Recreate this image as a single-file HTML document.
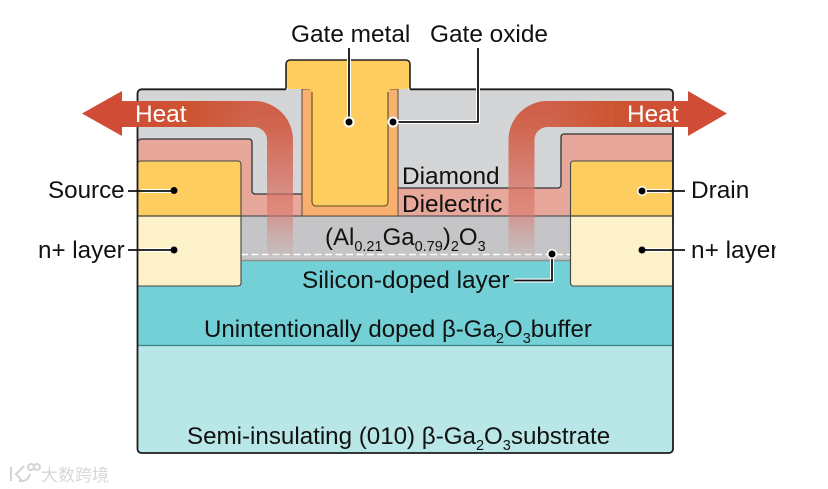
<!DOCTYPE html>
<html><head><meta charset="utf-8"><style>
html,body{margin:0;padding:0;background:#fff;width:828px;height:489px;overflow:hidden}
svg{display:block}
text{font-family:"Liberation Sans","Noto Sans CJK SC",sans-serif;font-size:24.400px;fill:#111}
.s{font-size:14.500px}
.h{fill:#fff}
</style></head><body>
<svg width="828" height="489" viewBox="0 0 828 489" xmlns="http://www.w3.org/2000/svg">
<defs>
<linearGradient id="fade" gradientUnits="userSpaceOnUse" x1="0" y1="101" x2="0" y2="256">
<stop offset="0" stop-color="#cf5f48"/>
<stop offset=".16" stop-color="#d0654f"/>
<stop offset=".5" stop-color="#d86f60" stop-opacity=".8"/>
<stop offset=".75" stop-color="#d8766a" stop-opacity=".55"/>
<stop offset="1" stop-color="#d08078" stop-opacity=".08"/>
</linearGradient>
<linearGradient id="hl" gradientUnits="userSpaceOnUse" x1="121" y1="0" x2="250" y2="0">
<stop offset="0" stop-color="#d04c37"/>
<stop offset=".55" stop-color="#cc5531"/>
<stop offset="1" stop-color="#cc5531" stop-opacity="0"/>
</linearGradient>
<linearGradient id="hr" gradientUnits="userSpaceOnUse" x1="689" y1="0" x2="552" y2="0">
<stop offset="0" stop-color="#d04c37"/>
<stop offset=".55" stop-color="#cc5531"/>
<stop offset="1" stop-color="#cc5531" stop-opacity="0"/>
</linearGradient>
</defs>
<!-- substrate -->
<path d="M137.500 345H673V449a4 4 0 0 1-4 4H141.500a4 4 0 0 1-4-4Z" fill="#b9e6e6"/>
<!-- buffer -->
<rect x="137.500" y="258" width="535.500" height="87" fill="#72d0d6"/>
<!-- AlGaO -->
<rect x="241" y="216" width="330" height="44" fill="#c5c5c7"/>
<line x1="241" y1="260.500" x2="571" y2="260.500" stroke="#8f8f8f" stroke-width="1.500"/>
<line x1="241" y1="254.500" x2="571" y2="254.500" stroke="#fff" stroke-width="1.500" stroke-dasharray="7 3.500"/>
<!-- diamond -->
<path d="M137.500 93a4 4 0 0 1 4-4H673V140H561V188H398V194H252V139H137.500Z" fill="#d3d5d7"/>
<!-- dielectric -->
<path d="M141.500 139H252V194H398V188H561V134H669a4 4 0 0 1 4 4V216H137.500V143a4 4 0 0 1 4-4Z" fill="#e7a89b"/>
<path d="M137.500 143a4 4 0 0 1 4-4H249a3 3 0 0 1 3 3V191a3 3 0 0 0 3 3H302" fill="none" stroke="#333" stroke-width="1.300"/>
<path d="M398 188H558a3 3 0 0 0 3-3V137a3 3 0 0 1 3-3H673" fill="none" stroke="#333" stroke-width="1.300"/>
<line x1="241" y1="216" x2="571" y2="216" stroke="#555" stroke-width="1.200"/>
<!-- oxide -->
<rect x="302" y="89" width="96" height="127" fill="#f9b06f" stroke="#5a4a3a" stroke-width="1"/>
<!-- gate -->
<path d="M290 60H406a4 4 0 0 1 4 4V85a4 4 0 0 1-4 4H391a3 3 0 0 0-3 3V202a4 4 0 0 1-4 4H316a4 4 0 0 1-4-4V92a3 3 0 0 0-3-3H290a4 4 0 0 1-4-4V64a4 4 0 0 1 4-4Z" fill="#fdce5f"/>
<path d="M286 89V64a4 4 0 0 1 4-4H406a4 4 0 0 1 4 4V89" fill="none" stroke="#222" stroke-width="1.600"/>
<path d="M312 92V202a4 4 0 0 0 4 4H384a4 4 0 0 0 4-4V92" fill="none" stroke="#5a4a20" stroke-width="1.100"/>
<!-- source/drain & n+ -->
<path d="M137.500 164a3 3 0 0 1 3-3H238a3 3 0 0 1 3 3V216H137.500Z" fill="#fdce5f"/>
<path d="M573.500 161H673V216H570.500V164a3 3 0 0 1 3-3Z" fill="#fdce5f"/>
<path d="M137.500 216H241V283a3 3 0 0 1-3 3H137.500Z" fill="#fdf1c9"/>
<path d="M570.500 216H673V286H573.500a3 3 0 0 1-3-3Z" fill="#fdf1c9"/>
<path d="M137.500 216H241M570.500 216H673" stroke="#444" stroke-width="1.200"/>
<path d="M137.500 164a3 3 0 0 1 3-3H238a3 3 0 0 1 3 3V283a3 3 0 0 1-3 3H137.500" fill="none" stroke="#444" stroke-width="1.100"/>
<path d="M673 161H573.500a3 3 0 0 0-3 3V283a3 3 0 0 0 3 3H673" fill="none" stroke="#444" stroke-width="1.100"/>
<line x1="137.500" y1="345.500" x2="673" y2="345.500" stroke="#3f7f85" stroke-width="1.300"/>
<!-- outline -->
<path d="M286 89.300H141.500a4 4 0 0 0-4 4V449a4 4 0 0 0 4 4H669a4 4 0 0 0 4-4V93.300a4 4 0 0 0-4-4H410" fill="none" stroke="#1d1d1d" stroke-width="1.800"/>
<!-- heat arrows -->
<path d="M190 114H254A26 26 0 0 1 280 140V256" fill="none" stroke="url(#fade)" stroke-width="26"/>
<path d="M121 114H250" fill="none" stroke="url(#hl)" stroke-width="26"/>
<path d="M122 91L82 113.500L122 136Z" fill="#d04c37"/>
<path d="M610 114H547.500A26 26 0 0 0 521.500 140V256" fill="none" stroke="url(#fade)" stroke-width="26"/>
<path d="M689 114H552" fill="none" stroke="url(#hr)" stroke-width="26"/>
<path d="M688 91L727 113.500L688 136Z" fill="#d04c37"/>
<!-- leaders -->
<g fill="none" stroke="#fff" stroke-width="4">
<path d="M349 48V122"/><path d="M478 48V122H393"/><path d="M174 191H141"/><path d="M174 250H141"/><path d="M642 191H670"/><path d="M642 250H670"/><path d="M514 280.500H552V254"/>
</g>
<g fill="none" stroke="#111" stroke-width="1.800">
<path d="M349 48V122"/><path d="M478 48V122H393"/><path d="M128 191H174"/><path d="M128 250H174"/><path d="M642 191H685"/><path d="M642 250H685"/><path d="M514 280.500H552V254"/>
</g>
<g fill="#fff"><circle cx="349" cy="122" r="5.500"/><circle cx="393" cy="122" r="5.500"/><circle cx="552" cy="254" r="5"/><circle cx="642" cy="191" r="5"/></g>
<g fill="#000"><circle cx="349" cy="122" r="3.500"/><circle cx="393" cy="122" r="3.500"/><circle cx="174" cy="190.500" r="3.500"/><circle cx="174" cy="250" r="3.500"/><circle cx="642" cy="191" r="3.500"/><circle cx="642" cy="250" r="3.500"/><circle cx="552" cy="254" r="3.500"/></g>
<!-- labels -->
<text x="291" y="42">Gate metal</text>
<text x="430" y="42">Gate oxide</text>
<text class="h" x="135" y="122">Heat</text>
<text class="h" x="627" y="122">Heat</text>
<text x="48" y="198" style="font-size:24.200px">Source</text>
<text x="38" y="258" style="font-size:24.200px">n+ layer</text>
<text x="691" y="198">Drain</text>
<text x="691" y="258">n+ layer</text>
<rect x="775.500" y="235" width="12" height="30" fill="#fff"/>
<text x="402" y="184">Diamond</text>
<text x="402" y="212">Dielectric</text>
<text x="325" y="245" style="font-size:24px">(Al<tspan class="s" dy="6">0.21</tspan><tspan dy="-6">Ga</tspan><tspan class="s" dy="6">0.79</tspan><tspan dy="-6">)</tspan><tspan class="s" dy="6">2</tspan><tspan dy="-6">O</tspan><tspan class="s" dy="6">3</tspan></text>
<text x="302" y="288">Silicon-doped layer</text>
<text x="204" y="337" style="font-size:24.050px">Unintentionally doped β-Ga<tspan class="s" dy="6">2</tspan><tspan dy="-6">O</tspan><tspan class="s" dy="6">3</tspan><tspan dy="-6">buffer</tspan></text>
<text x="187" y="444" style="font-size:24.150px">Semi-insulating (010) β-Ga<tspan class="s" dy="6">2</tspan><tspan dy="-6">O</tspan><tspan class="s" dy="6">3</tspan><tspan dy="-6">substrate</tspan></text>
<!-- watermark -->
<g fill="none" stroke="#d4d4d4" stroke-width="2">
<path d="M11 467V481"/><path d="M24 466L16 474L22 481"/><path d="M19 481Q28 482 30 474"/><circle cx="31" cy="467" r="3"/><circle cx="37" cy="467" r="3"/>
</g>
<text x="41" y="481" style="font-size:17px;fill:#d8d8d8;font-family:'Noto Sans CJK SC',sans-serif">大数跨境</text>
</svg>
</body></html>
